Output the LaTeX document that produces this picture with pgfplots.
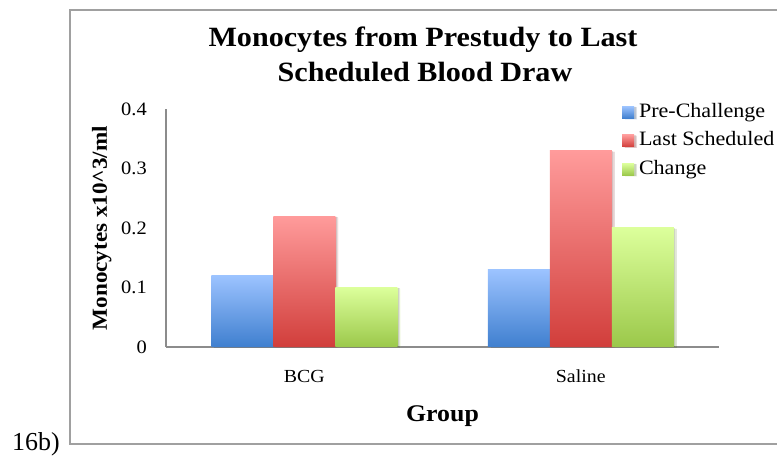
\documentclass[border=0pt]{standalone}
\usepackage{fontspec}
\setmainfont{Liberation Serif}[FakeStretch=1.08]
\newfontfamily\tnr{Liberation Serif}
\usepackage{pgfplots}
\pgfplotsset{compat=1.18}
\definecolor{bluetop}{HTML}{9CC3FF}
\definecolor{bluebot}{HTML}{3F7FCF}
\definecolor{redtop}{HTML}{FF9B9B}
\definecolor{redbot}{HTML}{D13E3B}
\definecolor{greentop}{HTML}{DCFF9B}
\definecolor{greenbot}{HTML}{9BC84A}
\definecolor{framegray}{HTML}{A0A0A0}
\definecolor{axisgray}{HTML}{8C8C8C}
\pgfplotsset{
  mylegend/.style 2 args={legend image code/.code={\path[shading=axis, top color=#1, bottom color=#2] (0bp,-6bp) rectangle (12bp,6bp);}},
  barshadow/.style={preaction={fill=black, opacity=0.10, transform canvas={xshift=3bp, yshift=-1bp}},
                    preaction={fill=black, opacity=0.10, transform canvas={xshift=1.5bp, yshift=-0.5bp}}},
  bluebar/.style={draw=none, shading=axis, top color=bluetop, bottom color=bluebot, bar shift=-62bp, barshadow, mylegend={bluetop}{bluebot}},
  redbar/.style={draw=none, shading=axis, top color=redtop, bottom color=redbot, bar shift=0bp, barshadow, mylegend={redtop}{redbot}},
  greenbar/.style={draw=none, shading=axis, top color=greentop, bottom color=greenbot, bar shift=62bp, barshadow, mylegend={greentop}{greenbot}},
}
\begin{document}
\begin{tikzpicture}
\useasboundingbox (0bp,0bp) rectangle (777bp,456bp);
\draw[color=framegray, line width=1.5bp] (780bp,446bp) -- (70bp,446bp) -- (70bp,12bp) -- (780bp,12bp);
\node[font=\tnr\fontsize{26}{30}\selectfont, anchor=base west, inner sep=0pt] at (12bp,6bp) {16b)};
\begin{axis}[
  at={(166bp,109bp)}, anchor=south west,
  scale only axis, width=553bp, height=238bp,
  xmin=-0.5, xmax=1.5, ymin=0, ymax=0.4,
  xtick={0,1}, xticklabels={BCG,Saline},
  ytick={0,0.1,0.2,0.3,0.4}, yticklabels={0,0.1,0.2,0.3,0.4},
  /pgf/number format/assume math mode=true,
  axis lines*=left,
  axis line style={draw=axisgray, line width=1.5bp},
  major tick length=0pt,
  ybar, bar width=62bp,
  xticklabel style={font=\fontsize{18.5}{22}\selectfont, anchor=base, inner sep=0pt, yshift=-35bp},
  yticklabel style={font=\fontsize{19}{22}\selectfont, anchor=east, inner sep=0pt, xshift=-19bp},
  xlabel={\bfseries Group},
  every axis x label/.style={at={(axis description cs:0.5,-0.315)}, anchor=base, font=\fontsize{24}{28}\selectfont},
  ylabel={\bfseries Monocytes x10\^{}3/ml},
  every axis y label/.style={at={(axis description cs:-0.1067,0.5)}, rotate=90, anchor=base, font=\fontsize{21.5}{24}\selectfont},
  legend style={at={(axis description cs:0.8246,1.025)}, anchor=north west, draw=none, fill=none,
    inner sep=0pt, outer sep=0pt, font=\fontsize{20.5}{24}\selectfont,
    nodes={inner sep=0pt, text height=14bp, text depth=4.5bp},
    row sep=10bp, column sep=5bp},
  legend cell align=left,
  clip=false,
]
\addplot[bluebar] coordinates {(0,0.12)};
\addplot[redbar] coordinates {(0,0.22)};
\addplot[greenbar] coordinates {(0,0.10)};
\addplot[bluebar, forget plot] coordinates {(1,0.13)};
\addplot[redbar, forget plot] coordinates {(1,0.33)};
\addplot[greenbar, forget plot] coordinates {(1,0.20)};
\legend{Pre-Challenge,Last Scheduled,Change}
\end{axis}
\node[font=\bfseries\fontsize{28}{32}\selectfont, anchor=base, inner sep=0pt] at (423bp,409bp) {Monocytes from Prestudy to Last};
\node[font=\bfseries\fontsize{28}{32}\selectfont, anchor=base, inner sep=0pt] at (425bp,374bp) {Scheduled Blood Draw};
\end{tikzpicture}
\end{document}
